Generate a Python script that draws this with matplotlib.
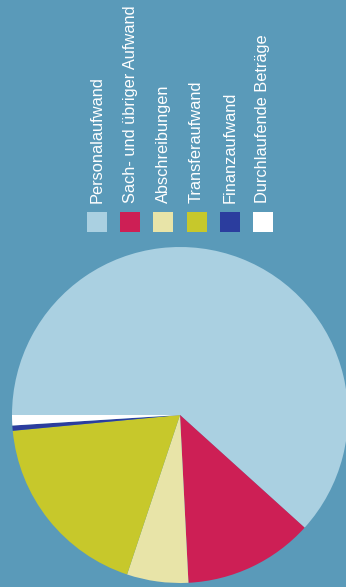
import matplotlib
matplotlib.use("Agg")
from matplotlib import pyplot as plt
from matplotlib.patches import Rectangle

# Aufwandsarten (Anteile in %, aus dem Bild geschätzt)
categories = ["Personalaufwand", "Sach- und übriger Aufwand", "Abschreibungen",
              "Transferaufwand", "Finanzaufwand", "Durchlaufende Beträge"]
shares = [61.7, 12.5, 5.9, 18.4, 0.5, 1.0]
colors = ["#aad0e1", "#cd1f55", "#e8e4a8", "#c7c82b", "#2b3d9e", "#ffffff"]

bg = "#5a9ab9"
W, H = 346, 587

plt.rcParams["font.family"] = ["Liberation Sans", "DejaVu Sans"]

fig = plt.figure(figsize=(W / 100, H / 100), dpi=100, facecolor=bg)
ax = fig.add_axes([0, 0, 1, 1])
ax.set_facecolor(bg)

# pie, clockwise from the left
ax.pie(shares, colors=colors, startangle=180, counterclock=False,
       center=(180, H - 415), radius=168, frame=True,
       wedgeprops=dict(linewidth=0))
ax.set_xlim(0, W)
ax.set_ylim(0, H)
ax.set_aspect("equal")
ax.axis("off")

# rotated legend along the top
x0, step, sq = 97, 33.2, 20
for i, (lab, col) in enumerate(zip(categories, colors)):
    xc = x0 + i * step
    ax.add_patch(Rectangle((xc - sq / 2, H - 232), sq, sq, facecolor=col,
                           edgecolor="none"))
    ax.text(xc, H - 203, lab, rotation=90, ha="center", va="bottom",
            color="white", fontsize=11.8)

fig.savefig("out.png", dpi=100, facecolor=bg)
